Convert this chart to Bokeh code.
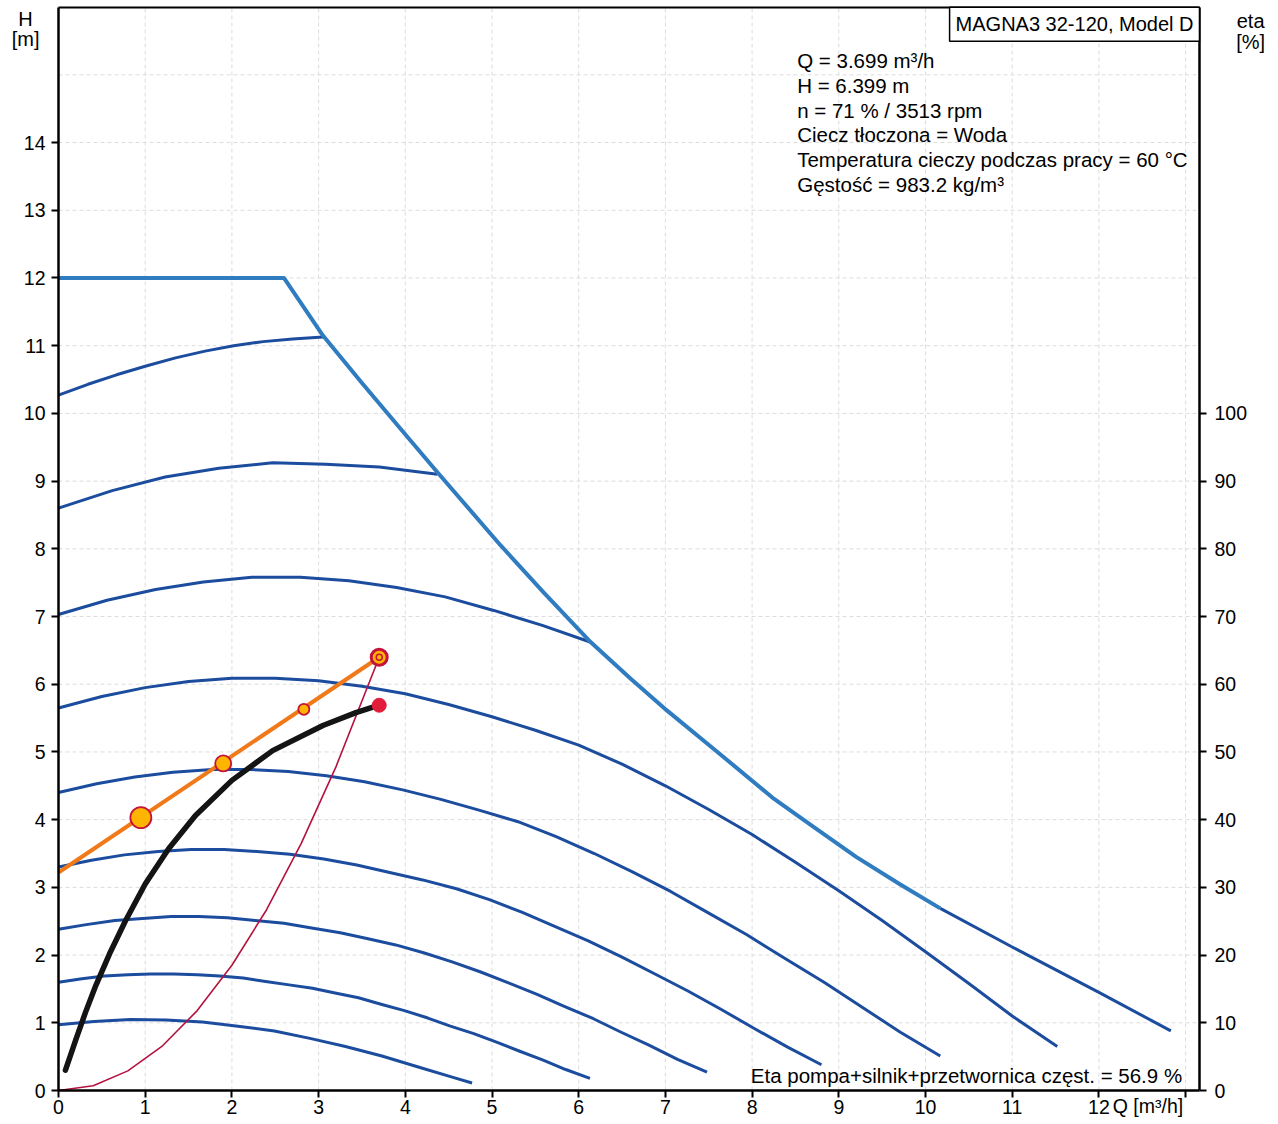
from bokeh.plotting import figure
from bokeh.models import Range1d, LinearAxis, FixedTicker, Label
from bokeh.embed import file_html
from bokeh.resources import INLINE

# ---------------- data ----------------
# speed curves, Q [m3/h] and H [m]
q_c1 = [0, 0.41, 0.83, 1.24, 1.66, 2.07, 2.49, 2.90, 3.31, 3.73, 4.14, 4.56, 4.77]
h_c1 = [0.97, 1.02, 1.05, 1.04, 1.01, 0.95, 0.88, 0.77, 0.65, 0.51, 0.35, 0.19, 0.11]
q_c2 = [0, 0.27, 0.53, 0.80, 1.06, 1.33, 1.60, 1.86, 2.13, 2.39, 2.66, 2.93, 3.19, 3.46,
        3.73, 3.99, 4.26, 4.52, 4.79, 5.06, 5.32, 5.59, 5.85, 6.13]
h_c2 = [1.60, 1.65, 1.69, 1.71, 1.72, 1.72, 1.71, 1.69, 1.66, 1.61, 1.56, 1.51, 1.44, 1.37,
        1.27, 1.18, 1.07, 0.95, 0.84, 0.71, 0.58, 0.45, 0.31, 0.18]
q_c3 = [0, 0.32, 0.65, 0.97, 1.30, 1.62, 1.95, 2.27, 2.60, 2.92, 3.25, 3.57, 3.89, 4.22,
        4.54, 4.87, 5.19, 5.52, 5.84, 6.17, 6.49, 6.81, 7.14, 7.48]
h_c3 = [2.38, 2.45, 2.51, 2.54, 2.57, 2.57, 2.55, 2.51, 2.47, 2.40, 2.33, 2.24, 2.15, 2.03,
        1.90, 1.75, 1.59, 1.42, 1.24, 1.06, 0.86, 0.67, 0.46, 0.27]
q_c4 = [0, 0.38, 0.76, 1.15, 1.53, 1.91, 2.29, 2.67, 3.06, 3.44, 3.82, 4.20, 4.59, 4.97,
        5.35, 5.73, 6.11, 6.50, 6.88, 7.26, 7.64, 8.02, 8.41, 8.80]
h_c4 = [3.30, 3.40, 3.48, 3.53, 3.56, 3.56, 3.53, 3.49, 3.42, 3.33, 3.22, 3.11, 2.98, 2.82,
        2.63, 2.42, 2.21, 1.97, 1.72, 1.47, 1.20, 0.92, 0.64, 0.38]
q_c5 = [0, 0.44, 0.88, 1.32, 1.77, 2.21, 2.65, 3.09, 3.53, 3.97, 4.41, 4.85, 5.30, 5.74,
        6.18, 6.62, 7.06, 7.50, 7.94, 8.38, 8.83, 9.27, 9.71, 10.17]
h_c5 = [4.40, 4.53, 4.63, 4.70, 4.74, 4.74, 4.71, 4.65, 4.56, 4.44, 4.30, 4.14, 3.97, 3.75,
        3.50, 3.23, 2.94, 2.62, 2.30, 1.95, 1.60, 1.23, 0.86, 0.51]
q_c6 = [0, 0.5, 1, 1.5, 2, 2.5, 3, 3.5, 4, 4.5, 5, 5.5, 6, 6.5, 7, 7.5, 8, 8.5, 9, 9.5,
        10, 10.5, 11, 11.52]
h_c6 = [5.65, 5.82, 5.95, 6.04, 6.09, 6.09, 6.05, 5.97, 5.86, 5.70, 5.52, 5.32, 5.10, 4.82,
        4.50, 4.15, 3.78, 3.37, 2.95, 2.51, 2.05, 1.58, 1.10, 0.65]
q_c7 = [0, 0.56, 1.12, 1.67, 2.23, 2.79, 3.35, 3.90, 4.46, 5.02, 5.58, 6.14]
h_c7 = [7.03, 7.24, 7.40, 7.51, 7.58, 7.58, 7.53, 7.43, 7.29, 7.09, 6.87, 6.62]
q_c8 = [0, 0.62, 1.23, 1.85, 2.47, 3.08, 3.70, 4.37]
h_c8 = [8.60, 8.86, 9.06, 9.19, 9.27, 9.25, 9.21, 9.10]
q_c9 = [0, 0.34, 0.67, 1.01, 1.35, 1.69, 2.02, 2.36, 2.70, 3.05]
h_c9 = [10.27, 10.43, 10.57, 10.70, 10.82, 10.92, 11.00, 11.06, 11.10, 11.13]

# maximum curve (envelope) and its continuation
q_max = [0, 2.6, 3.05, 3.5, 3.94, 4.37, 5.1, 5.6, 6.14, 6.6, 7.02, 7.6, 8.25, 8.7, 9.2,
         9.7, 10.17]
h_max = [12.0, 12.0, 11.15, 10.45, 9.78, 9.13, 8.05, 7.35, 6.62, 6.08, 5.61, 5.0, 4.31,
         3.90, 3.45, 3.05, 2.69]
q_tail = [10.17, 11.0, 12.0, 12.83]
h_tail = [2.69, 2.12, 1.45, 0.88]

# efficiency curve (right axis, %)
q_eta = [0.08, 0.2, 0.31, 0.43, 0.6, 0.77, 1.0, 1.27, 1.58, 2.0, 2.47, 3.05, 3.43, 3.699]
eta = [3.0, 7.5, 11.5, 15.5, 20.5, 25.0, 30.5, 35.7, 40.6, 45.8, 50.2, 53.9, 55.8, 56.9]

# system curve
q_sys = [0, 0.4, 0.8, 1.2, 1.6, 2.0, 2.4, 2.8, 3.2, 3.699]
h_sys = [0, 0.07, 0.29, 0.66, 1.18, 1.85, 2.67, 3.65, 4.78, 6.399]

# control curve (proportional pressure) and its markers
q_ctrl = [0, 3.699]
h_ctrl = [3.22, 6.399]
q_mk = [0.95, 1.9, 2.83]
h_mk = [4.03, 4.83, 5.63]
mk_size = [21, 16, 11]

# duty point
q_duty = [3.699]
h_duty = [6.399]
eta_duty = [56.9]

x_ticks = list(range(0, 14))
y_ticks = list(range(0, 15))
eta_ticks = list(range(0, 101, 10))
grid_x = list(range(1, 14))
grid_y = list(range(1, 16))

info_lines = [
    "Q = 3.699 m³/h",
    "H = 6.399 m",
    "n = 71 % / 3513 rpm",
    "Ciecz tłoczona = Woda",
    "Temperatura cieczy podczas pracy = 60 °C",
    "Gęstość = 983.2 kg/m³",
]
title_text = "MAGNA3 32-120, Model D"
eff_text = "Eta pompa+silnik+przetwornica częst. = 56.9 %"

# ---------------- figure ----------------
FONT = "Liberation Sans"
W, H = 1270, 1120
PX_Q, PX_H = 86.7, 67.71        # pixels per unit
X0, Y0 = 58, 1090               # canvas position of (0, 0)
Q_END = 13.16                   # right axis position
H_TOP = 16.0                    # top border

x_range = Range1d(-X0 / PX_Q, (W - X0) / PX_Q)
y_range = Range1d(-(H - Y0) / PX_H, Y0 / PX_H)

p = figure(width=W, height=H, output_backend="svg", toolbar_location=None,
           x_range=x_range, y_range=y_range, x_axis_location=None, y_axis_location=None,
           min_border=0)
p.extra_y_ranges = {"eta": Range1d(y_range.start * 10, y_range.end * 10)}
p.background_fill_color = "white"
p.border_fill_color = "white"
p.outline_line_color = None
p.xgrid.visible = False
p.ygrid.visible = False

# grid lines (faint dashed), bounded by the axes
p.segment(x0=grid_x, y0=[0] * len(grid_x), x1=grid_x, y1=[H_TOP] * len(grid_x),
          line_color="#dcdcdc", line_width=1, line_dash="4 3")
p.segment(x0=[0] * len(grid_y), y0=grid_y, x1=[Q_END] * len(grid_y), y1=grid_y,
          line_color="#dcdcdc", line_width=1, line_dash="4 3")


def style_axis(ax, standoff):
    ax.axis_line_color = "black"
    ax.axis_line_width = 2.5
    ax.major_tick_line_color = "black"
    ax.major_tick_line_width = 2
    ax.major_tick_out = 7
    ax.major_tick_in = 0
    ax.minor_tick_line_color = None
    ax.major_label_text_font = FONT
    ax.major_label_text_font_size = "19.5px"
    ax.major_label_text_color = "black"
    ax.major_label_standoff = standoff


ax_b = LinearAxis(ticker=FixedTicker(ticks=x_ticks), fixed_location=0, bounds=(0, Q_END),
                  major_label_overrides={13: ""})
style_axis(ax_b, 2)
p.add_layout(ax_b, "below")

ax_l = LinearAxis(ticker=FixedTicker(ticks=y_ticks), fixed_location=0, bounds=(0, H_TOP))
style_axis(ax_l, 6)
p.add_layout(ax_l, "left")

ax_r = LinearAxis(y_range_name="eta", ticker=FixedTicker(ticks=eta_ticks),
                  fixed_location=Q_END, bounds=(0, H_TOP * 10))
style_axis(ax_r, 8)
p.add_layout(ax_r, "right")

ax_t = LinearAxis(ticker=FixedTicker(ticks=[]), fixed_location=H_TOP, bounds=(0, Q_END))
style_axis(ax_t, 3)
ax_t.axis_line_width = 2
p.add_layout(ax_t, "above")

DARK = "#1b4c9e"
LIGHT = "#2f7cc0"

for qq, hh in ((q_c1, h_c1), (q_c2, h_c2), (q_c3, h_c3), (q_c4, h_c4), (q_c5, h_c5),
               (q_c6, h_c6), (q_c7, h_c7), (q_c8, h_c8), (q_c9, h_c9)):
    p.line(qq, hh, line_color=DARK, line_width=3, line_join="round")

p.line(q_tail, h_tail, line_color=DARK, line_width=3, line_join="round")
p.line(q_max, h_max, line_color=LIGHT, line_width=4, line_join="round")

# system curve
p.line(q_sys, h_sys, line_color="#b5123f", line_width=1.6, line_join="round")

# efficiency curve
p.line(q_eta, eta, y_range_name="eta", line_color="#141414", line_width=5.5,
       line_cap="round", line_join="round")
p.scatter(q_duty, eta_duty, y_range_name="eta", size=14, fill_color="#e21d3c",
          line_color="#e21d3c")

# control curve
p.line(q_ctrl, h_ctrl, line_color="#f07a1a", line_width=4)
p.scatter(q_mk, h_mk, size=mk_size, fill_color="#ffb400", line_color="#c4123a", line_width=1.8)
p.scatter(q_duty, h_duty, size=16, fill_color="#ffb400", line_color="#c4123a", line_width=3)
p.scatter(q_duty, h_duty, size=6, fill_color="#ffb400", line_color="#c4123a", line_width=1.5)


# ---------------- texts ----------------
def lab(x, y, text, align="left", baseline="middle", size="20.5px", **kw):
    p.add_layout(Label(x=x, y=y, text=text, text_font=FONT, text_font_size=size,
                       text_color="black", text_align=align, text_baseline=baseline, **kw))


lab(Q_END, H_TOP, title_text, align="right", baseline="top", size="20px",
    padding=6, border_line_color="black", border_line_width=1.5,
    background_fill_color="white")

info_y = [15.21, 14.84, 14.47, 14.12, 13.75, 13.38]
for yy, tt in zip(info_y, info_lines):
    lab(8.52, yy, tt)

lab(12.96, 0.22, eff_text, align="right")

lab(-0.38, 15.83, "H", align="center", size="20px")
lab(-0.38, 15.53, "[m]", align="center", size="20px")
lab(13.75, 15.80, "eta", align="center", size="20px")
lab(13.75, 15.49, "[%]", align="center", size="20px")
lab(12.16, -0.235, "Q [m³/h]", size="19.5px")

open("out.html", "w").write(file_html(p, INLINE))
